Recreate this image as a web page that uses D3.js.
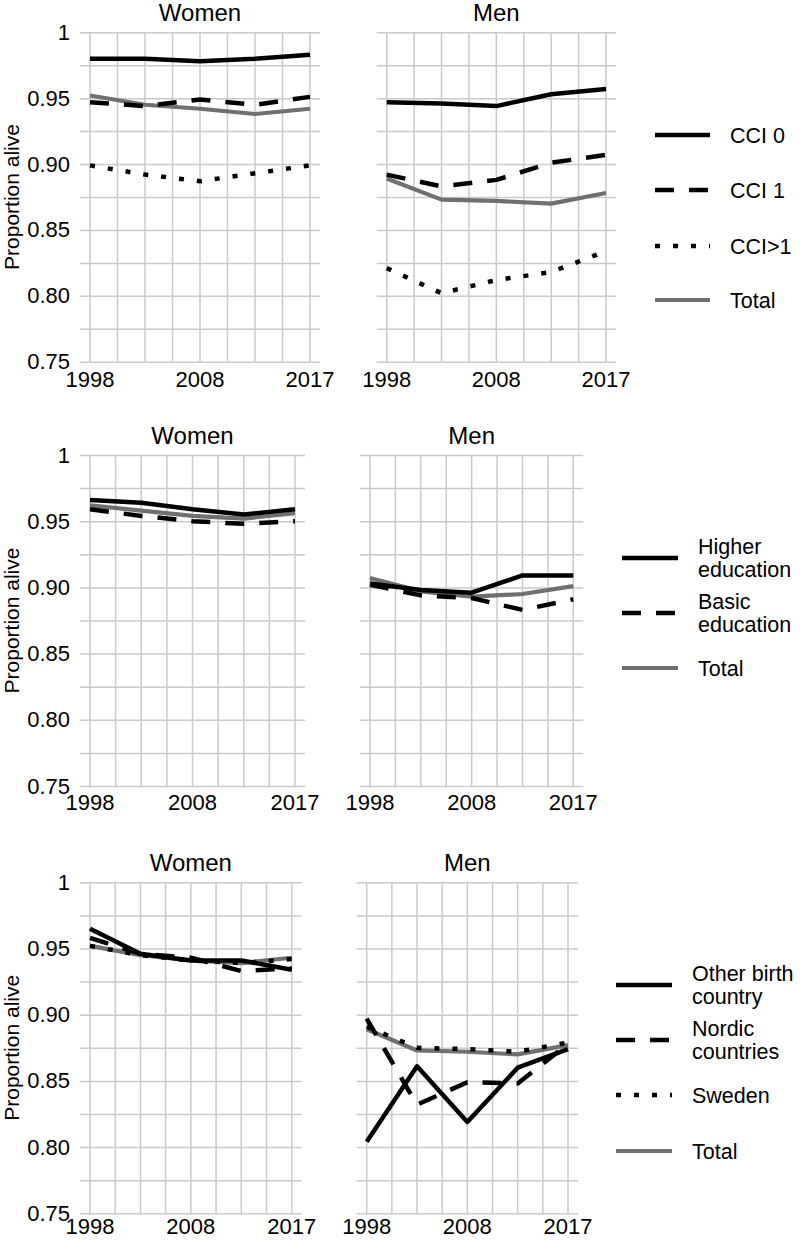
<!DOCTYPE html>
<html>
<head>
<meta charset="utf-8">
<script src="https://cdn.jsdelivr.net/npm/d3@7/dist/d3.min.js"></script>
<style>
  html, body { margin: 0; padding: 0; background: #fff; }
  svg { display: block; }
  text { font-family: "Liberation Sans", Arial, Helvetica, sans-serif; fill: #000; }
</style>
</head>
<body>
<svg id="chart" width="800" height="1241"></svg>
<script>
// ---------- DATA ----------
const periods = ["1998", "2003", "2008", "2013", "2017"];
const xTickLabels = ["1998", "2008", "2017"];
const yTicks = [0.75, 0.775, 0.80, 0.825, 0.85, 0.875, 0.90, 0.925, 0.95, 0.975, 1.0];
const yLabelTicks = [0.75, 0.80, 0.85, 0.90, 0.95, 1.0];
const panelTitles = ["Women", "Men"];
const yAxisTitle = "Proportion alive";

// Comorbidity (CCI)
const cciLabels = [["CCI 0"], ["CCI 1"], ["CCI>1"], ["Total"]];
const cciWomen = {
  cci0:  [0.980, 0.980, 0.978, 0.980, 0.983],
  cci1:  [0.947, 0.944, 0.949, 0.945, 0.951],
  cci2:  [0.899, 0.892, 0.887, 0.893, 0.899],
  total: [0.952, 0.945, 0.942, 0.938, 0.942]
};
const cciMen = {
  cci0:  [0.947, 0.946, 0.944, 0.953, 0.957],
  cci1:  [0.892, 0.883, 0.888, 0.901, 0.907],
  cci2:  [0.821, 0.802, 0.812, 0.818, 0.834],
  total: [0.889, 0.873, 0.872, 0.870, 0.878]
};

// Education
const eduLabels = [["Higher", "education"], ["Basic", "education"], ["Total"]];
const eduWomen = {
  higher: [0.966, 0.964, 0.959, 0.955, 0.959],
  basic:  [0.959, 0.954, 0.950, 0.948, 0.950],
  total:  [0.962, 0.958, 0.954, 0.952, 0.956]
};
const eduMen = {
  higher: [0.903, 0.898, 0.896, 0.909, 0.909],
  basic:  [0.902, 0.894, 0.892, 0.883, 0.891],
  total:  [0.907, 0.897, 0.893, 0.895, 0.901]
};

// Birth country
const birthLabels = [["Other birth", "country"], ["Nordic", "countries"], ["Sweden"], ["Total"]];
const birthWomen = {
  other:  [0.965, 0.946, 0.941, 0.941, 0.934],
  nordic: [0.958, 0.946, 0.943, 0.933, 0.935],
  sweden: [0.952, 0.945, 0.941, 0.939, 0.942],
  total:  [0.952, 0.945, 0.941, 0.939, 0.943]
};
const birthMen = {
  other:  [0.804, 0.861, 0.819, 0.860, 0.874],
  nordic: [0.897, 0.832, 0.849, 0.848, 0.878],
  sweden: [0.891, 0.875, 0.874, 0.872, 0.879],
  total:  [0.889, 0.873, 0.872, 0.870, 0.877]
};

// ---------- STYLES ----------
const FONT = "'Liberation Sans', Arial, Helvetica, sans-serif";
const BLACK = "#000", GRAY = "#707070", GRID = "#cacaca";
const styles = {
  solid:  { color: BLACK, width: 4.5, dash: null },
  dashed: { color: BLACK, width: 4.5, dash: "19,15" },
  dotted: { color: BLACK, width: 4.5, dash: "5,13" },
  total:  { color: GRAY,  width: 4.2, dash: null }
};

// ---------- LAYOUT ----------
const rows = [
  {
    y0: 32.3, y1: 361.7, xLabelGap: 25,
    panels: [{ x0: 90, x1: 310, data: cciWomen }, { x0: 386.7, x1: 606, data: cciMen }],
    keys: ["cci0", "cci1", "cci2", "total"],
    styleKeys: ["solid", "dashed", "dotted", "total"],
    labels: cciLabels,
    legend: { x0: 655, x1: 710, y: [135, 190, 246, 300] }
  },
  {
    y0: 455, y1: 786, xLabelGap: 24,
    panels: [{ x0: 90, x1: 295, data: eduWomen }, { x0: 370, x1: 573.3, data: eduMen }],
    keys: ["higher", "basic", "total"],
    styleKeys: ["solid", "dashed", "total"],
    labels: eduLabels,
    legend: { x0: 622, x1: 678, y: [558, 613, 668] }
  },
  {
    y0: 882.3, y1: 1213.3, xLabelGap: 21,
    panels: [{ x0: 90, x1: 291.7, data: birthWomen }, { x0: 366.7, x1: 568, data: birthMen }],
    keys: ["other", "nordic", "sweden", "total"],
    styleKeys: ["solid", "dashed", "dotted", "total"],
    labels: birthLabels,
    legend: { x0: 616, x1: 672, y: [985, 1040, 1095, 1151] }
  }
];

const svg = d3.select("#chart").style("font-family", FONT);

rows.forEach(row => {
  const y = d3.scaleLinear().domain([0.75, 1.0]).range([row.y1, row.y0]);

  row.panels.forEach((p, pi) => {
    const g = svg.append("g");
    const x = d3.scalePoint().domain(periods).range([p.x0, p.x1]);
    const step = x.step();
    const gridX = [];
    periods.forEach((per, i) => {
      gridX.push(x(per));
      if (i < periods.length - 1) gridX.push(x(per) + step / 2);
    });

    // horizontal grid + y tick labels via axis
    const yAxis = d3.axisLeft(y)
      .tickValues(yTicks)
      .tickSize(-(p.x1 - p.x0 + 20))
      .tickPadding(10)
      .tickFormat(v => {
        if (pi !== 0) return "";
        const isLabel = yLabelTicks.some(t => Math.abs(t - v) < 1e-9);
        if (!isLabel) return "";
        return v === 1 ? "1" : d3.format(".2f")(v);
      });
    const ya = g.append("g")
      .attr("class", "yaxis")
      .attr("transform", `translate(${p.x0 - 10},0)`)
      .call(yAxis)
      .attr("font-size", null)
      .attr("font-family", null);
    ya.select(".domain").remove();
    ya.selectAll("line").attr("stroke", GRID).attr("stroke-width", 1.5);
    ya.selectAll("text")
      .style("font-size", "22px")
      .style("font-family", FONT)
      .attr("fill", "#000");

    // vertical grid
    g.append("g").selectAll("line").data(gridX).join("line")
      .attr("x1", d => d).attr("x2", d => d)
      .attr("y1", row.y0).attr("y2", row.y1)
      .attr("stroke", GRID).attr("stroke-width", 1.5);

    // x labels
    g.append("g").selectAll("text").data(xTickLabels).join("text")
      .attr("x", d => x(d)).attr("y", row.y1 + row.xLabelGap)
      .attr("text-anchor", "middle").style("font-size", "22px")
      .text(d => d);

    // title
    g.append("text")
      .attr("x", (p.x0 + p.x1) / 2).attr("y", row.y0 - 11)
      .attr("text-anchor", "middle").style("font-size", "24px")
      .text(panelTitles[pi]);

    // y axis title
    if (pi === 0) {
      g.append("text")
        .attr("transform", `translate(19,${(row.y0 + row.y1) / 2}) rotate(-90)`)
        .attr("text-anchor", "middle").style("font-size", "21px")
        .text(yAxisTitle);
    }

    // lines (total drawn first, underneath)
    const line = d3.line().x((d, i) => x(periods[i])).y(d => y(d));
    const order = row.keys.map((k, i) => i).sort((a, b) =>
      (row.styleKeys[a] === "total" ? -1 : 0) - (row.styleKeys[b] === "total" ? -1 : 0));
    order.forEach(i => {
      const s = styles[row.styleKeys[i]];
      g.append("path")
        .datum(p.data[row.keys[i]])
        .attr("d", line)
        .attr("fill", "none")
        .attr("stroke", s.color)
        .attr("stroke-width", s.width)
        .attr("stroke-linejoin", "round")
        .attr("stroke-linecap", "butt")
        .attr("stroke-dasharray", s.dash);
    });
  });

  // legend
  const lg = svg.append("g");
  row.keys.forEach((k, i) => {
    const s = styles[row.styleKeys[i]];
    const ly = row.legend.y[i];
    lg.append("line")
      .attr("x1", row.legend.x0).attr("x2", row.legend.x1)
      .attr("y1", ly).attr("y2", ly)
      .attr("stroke", s.color).attr("stroke-width", s.width)
      .attr("stroke-dasharray", s.dash);
    const lines = row.labels[i];
    const t = lg.append("text")
      .attr("x", row.legend.x1 + 20)
      .style("font-size", "21.5px");
    lines.forEach((txt, j) => {
      t.append("tspan")
        .attr("x", row.legend.x1 + 20)
        .attr("y", ly + (j - (lines.length - 1) / 2) * 23 + 7.7)
        .text(txt);
    });
  });
});
</script>
</body>
</html>
